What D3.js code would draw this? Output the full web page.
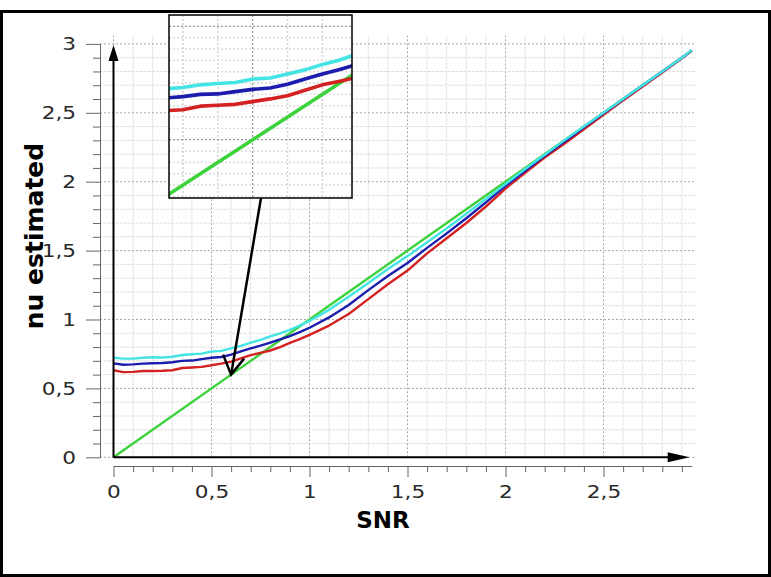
<!DOCTYPE html>
<html>
<head>
<meta charset="utf-8">
<script src="https://cdn.jsdelivr.net/npm/d3@7"></script>
<style>
  body { margin: 0; background: #fff; }
  svg { display: block; font-family: 'DejaVu Sans', Verdana, sans-serif; }
</style>
</head>
<body>
<svg width="771" height="577"></svg>
<script>
//Data.
var snr = [0, 0.05, 0.1, 0.15, 0.2, 0.25, 0.3, 0.35, 0.4, 0.45, 0.5, 0.55, 0.6, 0.65, 0.7, 0.75, 0.8, 0.85, 0.9, 0.95, 1.0,
           1.1, 1.2, 1.3, 1.4, 1.5, 1.6, 1.7, 1.8, 1.9, 2.0, 2.1, 2.2, 2.3, 2.4, 2.5, 2.6, 2.7, 2.8, 2.9, 2.95];
var cyanNu = [0.722, 0.716, 0.716, 0.722, 0.726, 0.724, 0.73, 0.742, 0.748, 0.752, 0.768, 0.772, 0.79, 0.808, 0.832, 0.852, 0.878, 0.9, 0.925, 0.955, 0.99,
              1.07, 1.165, 1.265, 1.366, 1.46, 1.56, 1.66, 1.767, 1.875, 1.983, 2.092, 2.195, 2.3, 2.4, 2.5, 2.6, 2.7, 2.8, 2.9, 2.955];
var blueNu = [0.682, 0.672, 0.674, 0.68, 0.682, 0.684, 0.69, 0.7, 0.702, 0.712, 0.722, 0.728, 0.745, 0.768, 0.79, 0.81, 0.832, 0.855, 0.88, 0.908, 0.94,
              1.015, 1.105, 1.213, 1.315, 1.41, 1.52, 1.625, 1.735, 1.85, 1.97, 2.08, 2.188, 2.29, 2.395, 2.497, 2.598, 2.7, 2.8, 2.9, 2.953];
var redNu = [0.632, 0.618, 0.62, 0.626, 0.626, 0.628, 0.632, 0.648, 0.652, 0.656, 0.668, 0.68, 0.694, 0.718, 0.742, 0.758, 0.775, 0.8, 0.83, 0.858, 0.888,
             0.956, 1.04, 1.148, 1.256, 1.355, 1.48, 1.59, 1.70, 1.82, 1.95, 2.065, 2.175, 2.275, 2.38, 2.485, 2.59, 2.69, 2.793, 2.895, 2.952];
var greenSnr = [0, 2.95];
var greenNu = [0, 2.95];
var xTicks = [0, 0.5, 1, 1.5, 2, 2.5];
var xTickLabels = ['0', '0,5', '1', '1,5', '2', '2,5'];
var yTicks = [0, 0.5, 1, 1.5, 2, 2.5, 3];
var yTickLabels = ['0', '0,5', '1', '1,5', '2', '2,5', '3'];
//Region shown magnified in the inset, and the point the arrow points at.
var insetSnr = [0.26, 0.785];
var insetNu = [0.243, 1.05];
var pointer = [0.6, 0.6];

var svg = d3.select('svg');
var width = +svg.attr('width'), height = +svg.attr('height');

//Scales: 196 px per unit across, 137.8 px per unit up.
var xScale = d3.scaleLinear().domain([0, 2.95]).range([113.5, 113.5 + 196 * 2.95]);
var yScale = d3.scaleLinear().domain([0, 3]).range([457.3, 457.3 - 137.8 * 3]);

var series = [
  {nu: greenNu, x: greenSnr, color: '#3cd23c'},
  {nu: redNu, x: snr, color: '#d42222'},
  {nu: blueNu, x: snr, color: '#1c1cae'},
  {nu: cyanNu, x: snr, color: '#44e4e4'}
];

//Outer frame.
svg.append('rect')
  .attr('x', 1.5).attr('y', 11.5).attr('width', width - 3).attr('height', height - 13)
  .attr('fill', 'none').attr('stroke', '#000').attr('stroke-width', 3);

//Grid, tenths light, halves dotted.
var tenths = d3.range(0, 31).map(function(i) { return i / 10; });
function isMajor(v) { return Math.abs(v * 2 - Math.round(v * 2)) < 1e-6; }
var grid = svg.append('g');
grid.selectAll('.vg').data(tenths.filter(function(v) { return v < 2.96; }))
  .enter().append('line')
  .attr('x1', function(d) { return xScale(d); }).attr('x2', function(d) { return xScale(d); })
  .attr('y1', yScale(0)).attr('y2', yScale(3.06))
  .attr('stroke', function(d) { return isMajor(d) ? '#a8a8a8' : '#dedede'; })
  .attr('stroke-dasharray', function(d) { return isMajor(d) ? '2,2' : '3,1'; });
grid.selectAll('.hg').data(tenths)
  .enter().append('line')
  .attr('x1', 100).attr('x2', xScale(2.97))
  .attr('y1', function(d) { return yScale(d); }).attr('y2', function(d) { return yScale(d); })
  .attr('stroke', function(d) { return isMajor(d) ? '#a8a8a8' : '#dedede'; })
  .attr('stroke-dasharray', function(d) { return isMajor(d) ? '2,2' : '3,1'; });

//Rulers built from d3 axes.
var minorX = tenths.filter(function(v) { return v < 2.95 && !isMajor(v); });
var minorY = tenths.filter(function(v) { return !isMajor(v); });
svg.append('g').attr('transform', 'translate(0,466)')
  .call(d3.axisBottom(xScale).tickValues(minorX).tickSize(6).tickSizeOuter(0).tickFormat(''))
  .call(function(g) { g.selectAll('path,line').attr('stroke', '#666'); });
var xAxis = svg.append('g').attr('transform', 'translate(0,466)')
  .call(d3.axisBottom(xScale).tickValues(xTicks).tickSize(11).tickSizeOuter(0).tickPadding(8)
    .tickFormat(function(d, i) { return xTickLabels[i]; }));
xAxis.selectAll('path,line').attr('stroke', '#666');
xAxis.selectAll('text').attr('transform', 'scale(1.2,1)')
  .attr('font-size', 18).attr('font-family', "'DejaVu Sans', sans-serif").attr('fill', '#2a2a2a');

svg.append('g').attr('transform', 'translate(100,0)')
  .call(d3.axisLeft(yScale).tickValues(minorY).tickSize(7).tickSizeOuter(0).tickFormat(''))
  .call(function(g) { g.selectAll('path,line').attr('stroke', '#666'); });
var yAxis = svg.append('g').attr('transform', 'translate(100,0)')
  .call(d3.axisLeft(yScale).tickValues(yTicks).tickSize(14).tickSizeOuter(0)
    .tickFormat(function(d, i) { return yTickLabels[i]; }));
yAxis.selectAll('path,line').attr('stroke', '#666');
yAxis.selectAll('text').attr('x', -20).attr('transform', 'scale(1.2,1)')
  .attr('font-size', 18).attr('font-family', "'DejaVu Sans', sans-serif").attr('fill', '#2a2a2a');

//Curves.
var line = d3.line()
  .x(function(d) { return d[0]; })
  .y(function(d) { return d[1]; });
function drawSeries(parent, xs, ys, sw) {
  series.forEach(function(s) {
    parent.append('path')
      .datum(s.x.map(function(v, i) { return [xs(v), ys(s.nu[i])]; }))
      .attr('d', line)
      .attr('fill', 'none')
      .attr('stroke', s.color)
      .attr('stroke-width', sw)
      .attr('stroke-linejoin', 'round');
  });
}
drawSeries(svg.append('g'), xScale, yScale, 2.4);

//Axis arrows.
var x0 = xScale(0), y0 = yScale(0);
svg.append('line').attr('x1', x0).attr('y1', y0).attr('x2', x0).attr('y2', yScale(3) + 10)
  .attr('stroke', '#000').attr('stroke-width', 2);
svg.append('path')
  .attr('d', 'M' + x0 + ',' + (yScale(3) + 1) + 'L' + (x0 - 5) + ',' + (yScale(3) + 17) + 'L' + (x0 + 5) + ',' + (yScale(3) + 17) + 'Z')
  .attr('fill', '#000');
var xTip = xScale(2.95) - 2;
svg.append('line').attr('x1', x0).attr('y1', y0).attr('x2', xTip - 10).attr('y2', y0)
  .attr('stroke', '#000').attr('stroke-width', 2);
svg.append('path')
  .attr('d', 'M' + xTip + ',' + y0 + 'L' + (xTip - 22) + ',' + (y0 - 5) + 'L' + (xTip - 22) + ',' + (y0 + 5) + 'Z')
  .attr('fill', '#000');

//Inset: the same data through magnified scales.
var inset = {x: 169, y: 15, w: 183, h: 183};
var ixScale = d3.scaleLinear().domain(insetSnr).range([inset.x, inset.x + inset.w]);
var iyScale = d3.scaleLinear().domain(insetNu).range([inset.y + inset.h, inset.y]);
svg.append('clipPath').attr('id', 'insetClip')
  .append('rect').attr('x', inset.x).attr('y', inset.y).attr('width', inset.w).attr('height', inset.h);
var ig = svg.append('g');
ig.append('rect').attr('x', inset.x).attr('y', inset.y).attr('width', inset.w).attr('height', inset.h)
  .attr('fill', '#fff');
var ic = ig.append('g').attr('clip-path', 'url(#insetClip)');
var iTenthsX = d3.range(2, 9).map(function(i) { return i / 10; });
var iTwentiethsY = d3.range(4, 22).map(function(i) { return i / 20; });
ic.selectAll('.ivg').data(iTenthsX).enter().append('line')
  .attr('x1', function(d) { return ixScale(d); }).attr('x2', function(d) { return ixScale(d); })
  .attr('y1', inset.y).attr('y2', inset.y + inset.h)
  .attr('stroke', function(d) { return isMajor(d) ? '#999' : '#d4d4d4'; })
  .attr('stroke-width', function(d) { return isMajor(d) ? 1.2 : 1.6; })
  .attr('stroke-dasharray', '2,2');
ic.selectAll('.ihg').data(iTwentiethsY).enter().append('line')
  .attr('x1', inset.x).attr('x2', inset.x + inset.w)
  .attr('y1', function(d) { return iyScale(d); }).attr('y2', function(d) { return iyScale(d); })
  .attr('stroke', function(d) { return isMajor(d) ? '#999' : '#dadada'; })
  .attr('stroke-width', function(d) { return isMajor(d) ? 1.2 : 1.4; })
  .attr('stroke-dasharray', '2,2');
drawSeries(ic, ixScale, iyScale, 3.6);
ig.append('rect').attr('x', inset.x).attr('y', inset.y).attr('width', inset.w).attr('height', inset.h)
  .attr('fill', 'none').attr('stroke', '#000').attr('stroke-width', 1.5);

//Pointer arrow from the inset to the magnified spot.
var px = xScale(pointer[0]), py = yScale(pointer[1]);
svg.append('line').attr('x1', 261).attr('y1', inset.y + inset.h).attr('x2', px).attr('y2', py)
  .attr('stroke', '#000').attr('stroke-width', 2.5);
svg.append('path')
  .attr('d', 'M' + (px - 8) + ',' + (py - 20) + 'L' + px + ',' + py + 'L' + (px + 13) + ',' + (py - 16))
  .attr('fill', 'none').attr('stroke', '#000').attr('stroke-width', 2.5).attr('stroke-linejoin', 'miter');

//Axis titles.
svg.append('text')
  .text('SNR')
  .attr('x', 383).attr('y', 528)
  .attr('text-anchor', 'middle')
  .attr('font-size', 23).attr('font-weight', 'bold');
svg.append('text')
  .text('nu estimated')
  .attr('text-anchor', 'middle')
  .attr('font-size', 25).attr('font-weight', 'bold')
  .attr('transform', 'translate(43,236) rotate(-90)');
</script>
</body>
</html>
